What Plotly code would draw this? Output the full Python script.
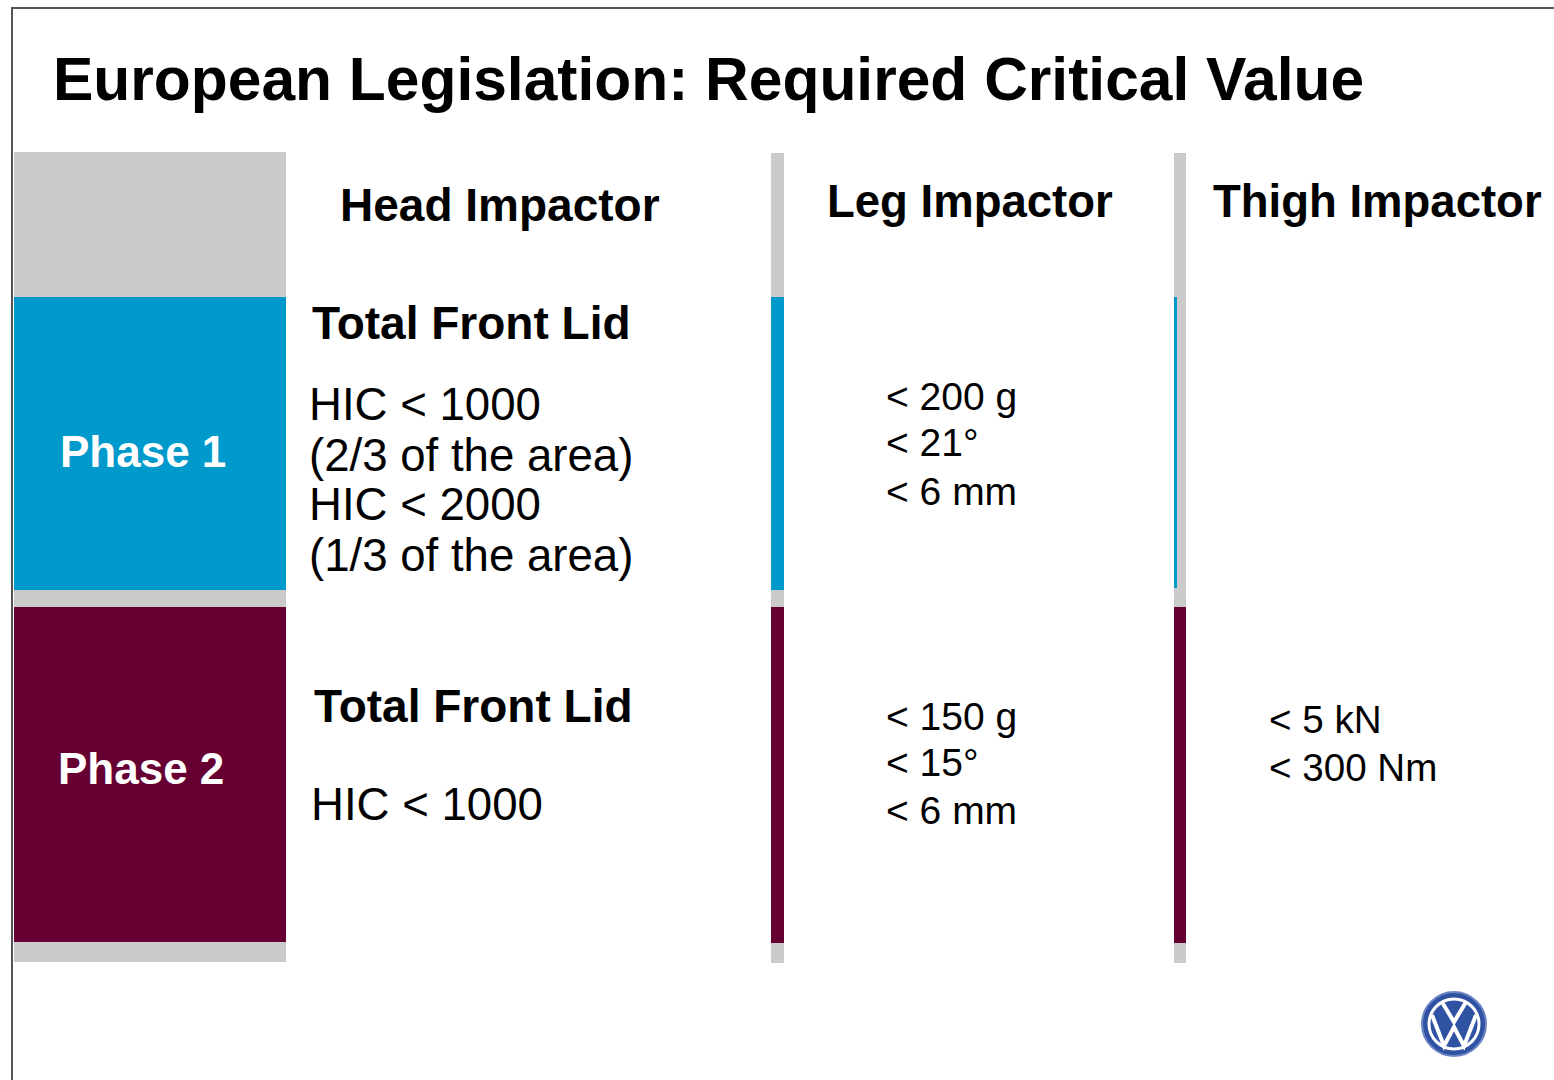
import plotly.graph_objects as go

# ---------------- data ----------------
title = "European Legislation: Required Critical Value"
columns = ["Head Impactor", "Leg Impactor", "Thigh Impactor"]
phases = ["Phase 1", "Phase 2"]
head_heading = "Total Front Lid"
head_p1 = ["HIC < 1000", "(2/3 of the area)", "HIC < 2000", "(1/3 of the area)"]
head_p2 = ["HIC < 1000"]
leg_p1 = ["< 200 g", "< 21°", "< 6 mm"]
leg_p2 = ["< 150 g", "< 15°", "< 6 mm"]
thigh_p1 = []
thigh_p2 = ["< 5 kN", "< 300 Nm"]

# ---------------- style ----------------
W, H = 1554, 1080
FONT = "Liberation Sans, Arial, Helvetica, sans-serif"
GRAY = "#CBCBCB"
BLUE = "#0099CC"
MAROON = "#660033"

fig = go.Figure()
shapes = []
ann = []


def rect(x0, y0, x1, y1, color):
    shapes.append(dict(type="rect", xref="x", yref="y", x0=x0, y0=y0, x1=x1, y1=y1,
                       fillcolor=color, line=dict(width=0), layer="below"))


def text(s, x, y, size, bold=False, color="black", anchor="left"):
    ann.append(dict(text=f"<b>{s}</b>" if bold else s, x=x, y=y, xref="x", yref="y",
                    xanchor=anchor, yanchor="middle", showarrow=False,
                    font=dict(family=FONT, size=size, color=color)))


# slide border
shapes.append(dict(type="rect", xref="x", yref="y", x0=12, y0=8, x1=W + 10, y1=H + 10,
                   line=dict(color="#555555", width=2), fillcolor="rgba(0,0,0,0)"))

# left phase column
rect(14, 152, 286, 297, GRAY)
rect(14, 297, 286, 590, BLUE)
rect(14, 590, 286, 607, GRAY)
rect(14, 607, 286, 942, MAROON)
rect(14, 942, 286, 962, GRAY)

# separator bars
for bx0, bx1, blue_full in [(771, 784, True), (1174, 1186, False)]:
    rect(bx0, 153, bx1, 963, GRAY)
    if blue_full:
        rect(bx0, 297, bx1, 590, BLUE)
    else:
        rect(bx0, 297, bx0 + 3, 588, BLUE)
    rect(bx0, 607, bx1, 943, MAROON)

# title
text(title, 51, 79, 60.5, bold=True)

# column headers
text(columns[0], 500, 205, 46, bold=True, anchor="center")
text(columns[1], 970, 201, 45.5, bold=True, anchor="center")
text(columns[2], 1377, 201, 45.5, bold=True, anchor="center")

# phase labels
text(phases[0], 143, 451, 44, bold=True, color="white", anchor="center")
text(phases[1], 141, 768, 44, bold=True, color="white", anchor="center")

# head impactor
text(head_heading, 310, 323, 46, bold=True)
for s, y in zip(head_p1, [404, 455, 504, 555]):
    text(s, 307, y, 45.6)
text(head_heading, 312, 706, 46, bold=True)
for s, y in zip(head_p2, [804]):
    text(s, 309, y, 45.6)

# leg impactor
for s, y in zip(leg_p1, [396, 442, 491]):
    text(s, 884, y, 39)
for s, y in zip(leg_p2, [716, 762, 810]):
    text(s, 884, y, 39)

# thigh impactor
for s, y in zip(thigh_p2, [719, 767]):
    text(s, 1267, y, 38.6)

# VW logo (decoration)
cx, cy, r = 1454, 1024, 32
shapes.append(dict(type="circle", xref="x", yref="y", x0=cx - r, y0=cy - r, x1=cx + r, y1=cy + r,
                   fillcolor="#2F52A3", line=dict(color="#6F86C4", width=2)))
shapes.append(dict(type="circle", xref="x", yref="y", x0=cx - 25, y0=cy - 25, x1=cx + 25, y1=cy + 25,
                   fillcolor="rgba(0,0,0,0)", line=dict(color="white", width=3)))
shapes.append(dict(type="path", xref="x", yref="y",
                   path=f"M {cx-12} {cy-22} L {cx} {cy-2} L {cx+12} {cy-22}",
                   line=dict(color="white", width=4)))
shapes.append(dict(type="path", xref="x", yref="y",
                   path=f"M {cx-22} {cy-9} L {cx-10} {cy+22} L {cx} {cy+3} L {cx+10} {cy+22} L {cx+22} {cy-9}",
                   line=dict(color="white", width=4)))

fig.update_layout(
    width=W, height=H, margin=dict(l=0, r=0, t=0, b=0),
    paper_bgcolor="white", plot_bgcolor="white",
    xaxis=dict(range=[0, W], visible=False, fixedrange=True),
    yaxis=dict(range=[H, 0], visible=False, fixedrange=True),
    shapes=shapes, annotations=ann, showlegend=False,
)

fig.write_html("out.html", config={"displayModeBar": False},
               post_script="document.body.style.margin='0';document.body.style.overflow='hidden';")
